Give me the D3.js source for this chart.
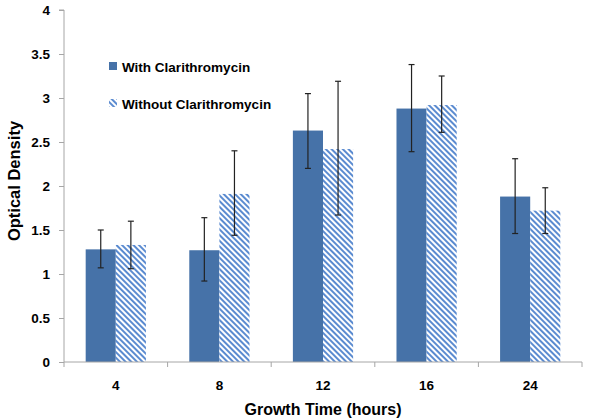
<!DOCTYPE html>
<html><head><meta charset="utf-8">
<script src="https://cdn.jsdelivr.net/npm/d3@7"></script>
<style>body{margin:0;background:#fff}svg{display:block}text{font-family:"Liberation Sans",Arial,sans-serif;font-weight:bold;fill:#000}</style>
</head><body><svg id="c" width="600" height="420"></svg>
<script>
const categories = ["4", "8", "12", "16", "24"];
const seriesNames = ["With Clarithromycin", "Without Clarithromycin"];
const withValues = [1.28, 1.27, 2.63, 2.88, 1.88];
const withErrLow = [1.07, 0.92, 2.20, 2.39, 1.46];
const withErrHigh = [1.50, 1.64, 3.05, 3.38, 2.31];
const withoutValues = [1.33, 1.91, 2.42, 2.92, 1.72];
const withoutErrLow = [1.06, 1.44, 1.67, 2.61, 1.46];
const withoutErrHigh = [1.60, 2.40, 3.19, 3.25, 1.98];
const yTicks = [0, 0.5, 1, 1.5, 2, 2.5, 3, 3.5, 4];
const yTickLabels = ["0", "0.5", "1", "1.5", "2", "2.5", "3", "3.5", "4"];

(function(){
const svg = d3.select("#c");
const blue = "#4672A8", hatch = "#5B8BD0", axisCol = "#A6A6A6";
const defs = svg.append("defs");
const pat = defs.append("pattern").attr("id","hatch").attr("patternUnits","userSpaceOnUse")
  .attr("width",4).attr("height",4).attr("patternTransform","rotate(-45)");
pat.append("rect").attr("width",4).attr("height",4).attr("fill","#fff");
pat.append("rect").attr("x",0).attr("width",2).attr("height",4).attr("fill",hatch);

const mL = 64, mR = 582, mT = 10, mB = 362;
const x = d3.scaleBand().domain(categories).range([mL, mR]).paddingInner(0).paddingOuter(0);
const x1 = d3.scaleBand().domain(seriesNames).range([0, x.bandwidth()]).paddingOuter(0.72).paddingInner(0);
const y = d3.scaleLinear().domain([0, 4]).range([mB, mT]);

const data = categories.map((c,i)=>[
  {c, s: seriesNames[0], v: withValues[i], lo: withErrLow[i], hi: withErrHigh[i]},
  {c, s: seriesNames[1], v: withoutValues[i], lo: withoutErrLow[i], hi: withoutErrHigh[i]}
]).flat();

const g = svg.append("g");
g.selectAll("rect.bar").data(data).join("rect").attr("class","bar")
  .attr("x", d=>x(d.c)+x1(d.s)).attr("width", x1.bandwidth())
  .attr("y", d=>y(d.v)).attr("height", d=>y(0)-y(d.v))
  .attr("fill", d=>d.s===seriesNames[0]?blue:"url(#hatch)");

const yAxis = d3.axisLeft(y).tickValues(yTicks).tickFormat((d,i)=>yTickLabels[i]).tickSize(5).tickPadding(9);
const ya = svg.append("g").attr("transform",`translate(${mL},0)`).call(yAxis);
ya.select(".domain").attr("stroke",axisCol).attr("d",`M-5,${mT}H0V${mB}`);
ya.selectAll(".tick line").attr("stroke",axisCol);
ya.selectAll(".tick text").attr("font-size",13.5).attr("font-family","Liberation Sans, Arial").attr("font-weight","bold").attr("fill","#000");

const xa = svg.append("g").attr("transform",`translate(0,${mB})`);
xa.append("line").attr("x1",mL).attr("x2",mR).attr("stroke",axisCol);
const bounds = categories.map(c=>x(c)).concat([mR]);
xa.selectAll("line.tk").data(bounds).join("line").attr("class","tk")
  .attr("x1",d=>d).attr("x2",d=>d).attr("y1",0).attr("y2",5).attr("stroke",axisCol);
xa.selectAll("text.lb").data(categories).join("text").attr("class","lb")
  .attr("x",d=>x(d)+x.bandwidth()/2).attr("y",28).attr("text-anchor","middle")
  .attr("font-size",13.5).text(d=>d);

const eb = g.selectAll("g.err").data(data).join("g").attr("class","err")
  .attr("transform", d=>`translate(${x(d.c)+x1(d.s)+x1.bandwidth()/2},0)`);
eb.append("line").attr("y1",d=>y(d.lo)).attr("y2",d=>y(d.hi)).attr("stroke","#222").attr("stroke-width",1.2);
eb.append("line").attr("x1",-3).attr("x2",3).attr("y1",d=>y(d.hi)).attr("y2",d=>y(d.hi)).attr("stroke","#222").attr("stroke-width",1.2);
eb.append("line").attr("x1",-3).attr("x2",3).attr("y1",d=>y(d.lo)).attr("y2",d=>y(d.lo)).attr("stroke","#222").attr("stroke-width",1.2);

svg.append("text").attr("transform",`translate(20,181) rotate(-90)`)
  .attr("text-anchor","middle").attr("font-size",16.5).text("Optical Density");
svg.append("text").attr("x",323).attr("y",415).attr("text-anchor","middle")
  .attr("font-size",16).text("Growth Time (hours)");

const lg = svg.append("g");
seriesNames.forEach((s,i)=>{
  const yy = 62 + i*37;
  lg.append("rect").attr("x",109).attr("y",yy).attr("width",8).attr("height",8)
    .attr("fill", i===0?blue:"url(#hatch)");
  lg.append("text").attr("x",122).attr("y",yy+9.5).attr("font-size",13.5).text(s);
});
})();
</script></body></html>
